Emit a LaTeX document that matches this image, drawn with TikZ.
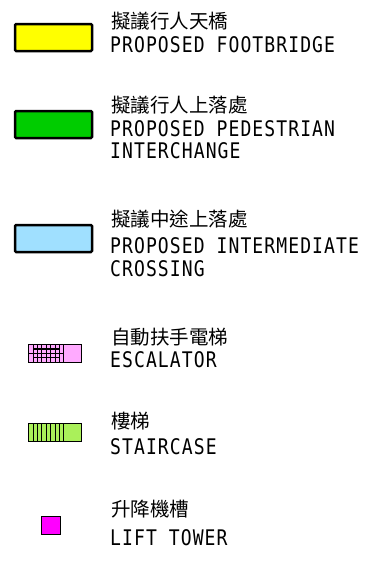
\documentclass[tikz,border=0pt]{standalone}
\usepackage{fontspec}
\newfontfamily\cjk{Noto Sans CJK TC}
\newfontfamily\engfont[FakeStretch=0.84,LetterSpace=5.0]{DejaVu Sans Mono}
\begin{document}
\begin{tikzpicture}[x=1pt,y=-1pt,
  legbox/.style={line width=2.5pt, rounded corners=1.2pt},
  zh/.style={anchor=base west, inner sep=0pt, font=\cjk\fontsize{19.5}{20}\selectfont},
  en/.style={anchor=base west, inner sep=0pt, font=\engfont\fontsize{21.5}{22}\selectfont},
  thinline/.style={line width=0.75pt}]
\useasboundingbox (0,0) rectangle (382,562);
\definecolor{fbyellow}{RGB}{255,255,0}
\definecolor{pigreen}{RGB}{0,204,0}
\definecolor{icblue}{RGB}{160,224,255}
\definecolor{escpink}{RGB}{255,170,255}
\definecolor{stgreen}{RGB}{170,240,90}
\definecolor{liftmag}{RGB}{255,0,255}

% footbridge
\draw[legbox, fill=fbyellow] (15,24) rectangle (92,51);
\node[zh] (t1) at (111,28) {擬議行人天橋};
\node[en] (e1) at (110,52.7) {PROPOSED FOOTBRIDGE};

% pedestrian interchange
\draw[legbox, fill=pigreen] (15,111) rectangle (92,138);
\node[zh] (t2) at (111,112) {擬議行人上落處};
\node[en] (e2a) at (110,136.7) {PROPOSED PEDESTRIAN};
\node[en] (e2b) at (110,158) {INTERCHANGE};

% intermediate crossing
\draw[legbox, fill=icblue] (15,225) rectangle (92,252);
\node[zh] (t3) at (111,226.5) {擬議中途上落處};
\node[en] (e3a) at (110,253) {PROPOSED INTERMEDIATE};
\node[en] (e3b) at (110,276) {CROSSING};

% escalator
\draw[thinline, fill=escpink] (28.5,344.5) rectangle (81.5,362);
\foreach \i in {0,...,7} {\draw[thinline] (28.5+\i*4.4,344.5) -- (28.5+\i*4.4,362);}
\draw[thinline] (28.5,353.2) -- (63.5,353.2);
\draw[line width=1.4pt] (34,349) -- (60,349);
\draw[line width=1.4pt] (34,357.6) -- (60,357.6);
\draw[thinline] (63.5,344.5) -- (63.5,362);
\node[zh] (t4) at (111,344.5) {自動扶手電梯};
\node[en] (e4) at (110,367) {ESCALATOR};

% staircase
\draw[thinline, fill=stgreen] (28.5,423) rectangle (81.5,441);
\foreach \i in {0,...,7} {\draw[thinline] (28.5+\i*4.4,423) -- (28.5+\i*4.4,441);}
\draw[thinline] (63.5,423) -- (63.5,441);
\node[zh] (t5) at (111,428.5) {樓梯};
\node[en] (e5) at (110,454) {STAIRCASE};

% lift tower
\draw[thinline, fill=liftmag] (41,516) rectangle (60,534);
\node[zh] (t6) at (111,516.5) {升降機槽};
\node[en] (e6) at (110,545) {LIFT TOWER};
\end{tikzpicture}
\end{document}
